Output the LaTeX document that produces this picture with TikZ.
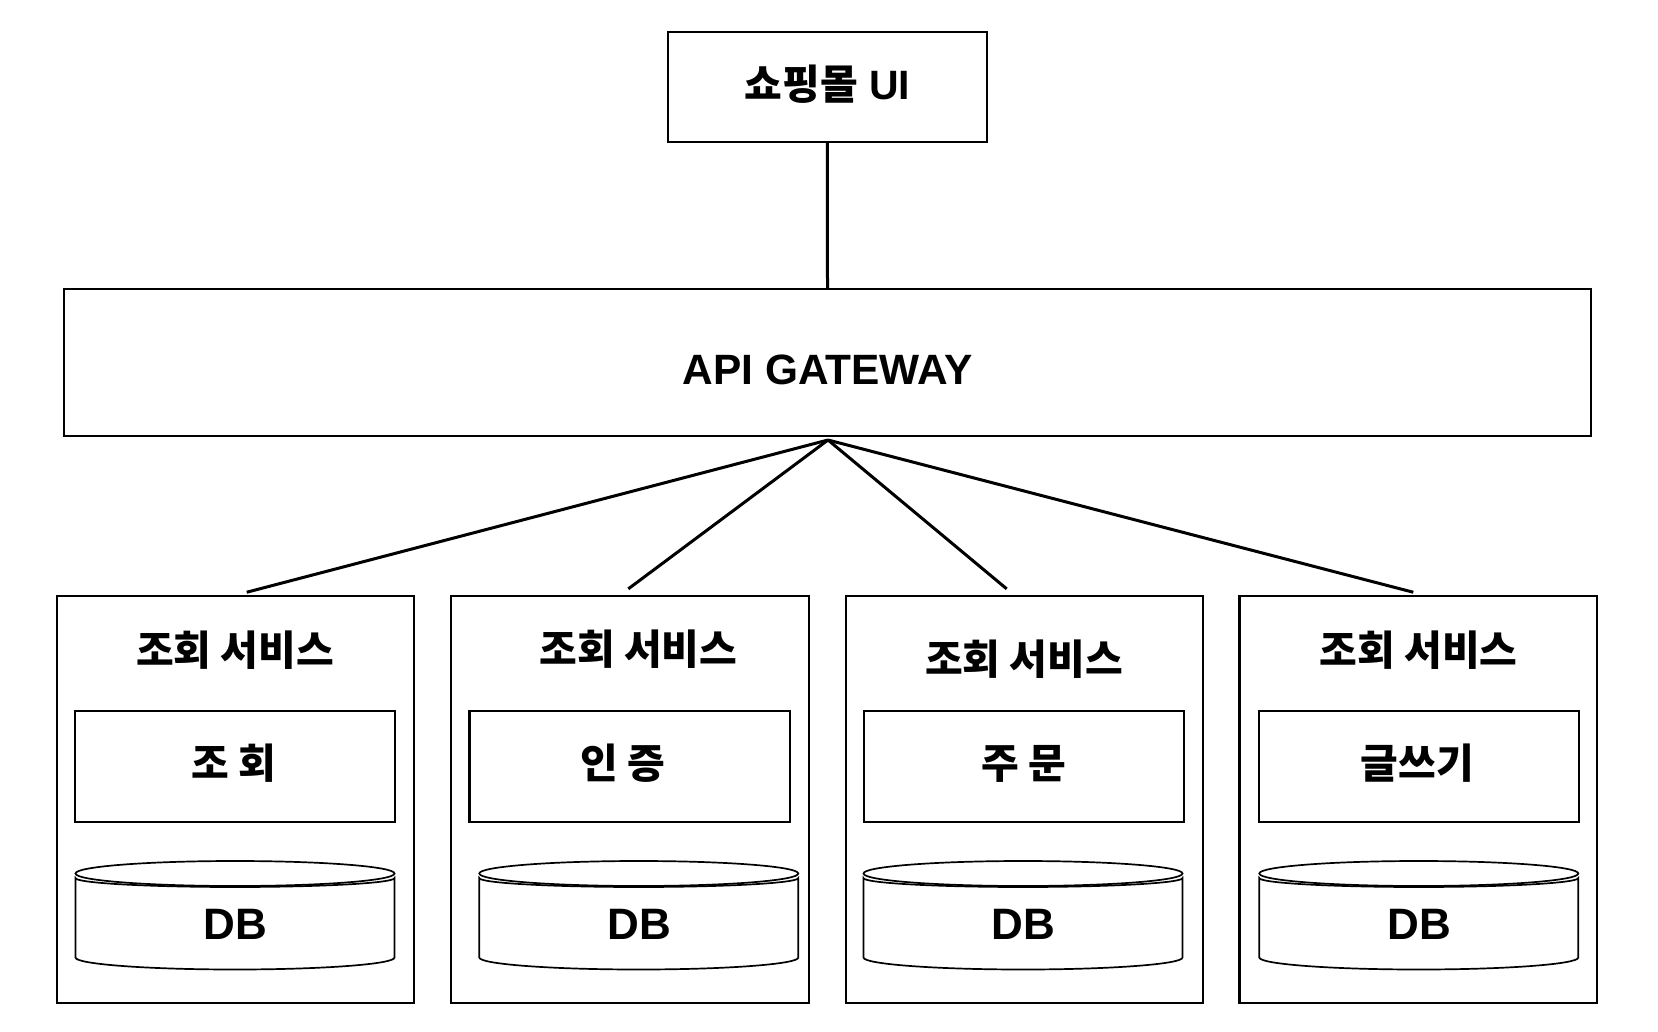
\documentclass[tikz,border=0pt]{standalone}
\usepackage{fontspec}
\setmainfont{Liberation Sans}
\newfontfamily\kr{Noto Sans CJK KR}
\tikzset{
  box/.style={draw, line width=1.1pt, rectangle, inner sep=0pt},
  conn/.style={line width=1.5pt},
  cyl/.style={line width=0.85pt},
  kt/.style={font=\kr\bfseries\fontsize{20.5}{24}\selectfont, anchor=base, inner sep=0pt},
  lt/.style={font=\bfseries\fontsize{21.2}{25}\selectfont, anchor=base, inner sep=0pt},
  dbt/.style={font=\bfseries\fontsize{22}{26}\selectfont, anchor=base, inner sep=0pt},
}
\begin{document}
\begin{tikzpicture}[x=0.5pt,y=-0.5pt]
\useasboundingbox[fill=white] (0,0) rectangle (1658,1032);
% top and gateway
\node[box, minimum width=159.65pt, minimum height=55pt] (ui) at (827.3,86.7) {};
\node[lt, font=\bfseries\fontsize{20.5}{24}\selectfont] (uit) at (827.5,100) {{\kr 쇼핑몰} UI};
\node[box, minimum width=763.5pt, minimum height=73.35pt] (gw) at (827.5,362.3) {};
\node[lt] (gwt) at (827.5,384.5) {API GATEWAY};
\draw[conn] (ui.south) -- (gw.north);
\coordinate (fan) at (828,440);
% services
\foreach \n/\c/\ic/\tc/\ty/\lab/\lx in {
  1/235.5/235/235/665/{조 회}/233.8,
  2/630/629.8/638.3/664.5/{인 증}/622.5,
  3/1024.5/1024/1024/674/{주 문}/1024.2,
  4/1418.3/1419/1418.7/665/{글쓰기}/1417.5}{
  \node[box, minimum width=178.8pt, minimum height=203.35pt] (s\n) at (\c,799.3) {};
  \node[kt] (st\n) at (\tc,\ty) {조회 서비스};
  \node[box, minimum width=160.3pt, minimum height=55.65pt] (in\n) at (\ic,766.3) {};
  \node[kt] (it\n) at (\lx,778.5) {\lab};
}
% cylinders
\foreach \n/\c in {1/235,2/638.8,3/1023,4/1418.8}{
  \draw[cyl] (\c-159.5,878) -- (\c-159.5,957.5)
    .. controls (\c-159.5,964.1) and (\c-88.1,969.5) .. (\c,969.5)
    .. controls (\c+88.1,969.5) and (\c+159.5,964.1) .. (\c+159.5,957.5)
    -- (\c+159.5,878)
    .. controls (\c+159.5,883) and (\c+88.1,887) .. (\c,887)
    .. controls (\c-88.1,887) and (\c-159.5,883) .. cycle;
  \draw[cyl] (\c,873.5) ellipse[x radius=159.5, y radius=12.5];
}
\node[dbt] (db1) at (235.3,939) {DB};
\node[dbt] (db2) at (639.7,939) {DB};
\node[dbt] (db3) at (1023.3,939) {DB};
\node[dbt] (db4) at (1419.7,939) {DB};
% fan connectors
\draw[conn] (fan) -- ([xshift=5.6pt,yshift=1.3pt]s1.north);
\draw[conn] (fan) -- ([xshift=-0.85pt,yshift=3pt]s2.north);
\draw[conn] (fan) -- ([xshift=-8.9pt,yshift=3pt]s3.north);
\draw[conn] (fan) -- ([xshift=-2.5pt,yshift=1.3pt]s4.north);
\end{tikzpicture}
\end{document}
